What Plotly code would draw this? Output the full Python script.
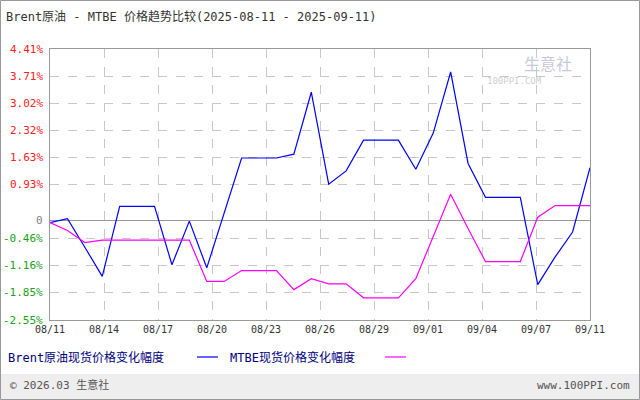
import plotly.graph_objects as go

dates = ["08/11","08/12","08/13","08/14","08/15","08/16","08/17","08/18","08/19","08/20","08/21",
         "08/22","08/23","08/24","08/25","08/26","08/27","08/28","08/29","08/30","08/31","09/01",
         "09/02","09/03","09/04","09/05","09/06","09/07","09/08","09/09","09/10","09/11"]
brent = [-0.05,0.05,-0.68,-1.43,0.37,0.37,0.37,-1.13,-0.01,-1.21,0.23,1.61,1.61,1.61,1.71,3.30,
         0.94,1.28,2.07,2.07,2.07,1.32,2.25,3.82,1.47,0.60,0.60,0.60,-1.64,-0.93,-0.29,1.36]
mtbe = [-0.05,-0.25,-0.56,-0.50,-0.50,-0.50,-0.50,-0.50,-0.50,-1.56,-1.56,-1.28,-1.28,-1.28,-1.77,
        -1.49,-1.62,-1.62,-1.98,-1.98,-1.98,-1.49,-0.42,0.68,-0.20,-1.05,-1.05,-1.05,0.09,0.39,0.39,0.39]
ytick_vals = [4.41,3.71,3.02,2.32,1.63,0.93,0,-0.46,-1.16,-1.85,-2.55]
ytick_text = ["4.41%","3.71%","3.02%","2.32%","1.63%","0.93%","0","-0.46%","-1.16%","-1.85%","-2.55%"]
xtick_labels = ["08/11","08/14","08/17","08/20","08/23","08/26","08/29","09/01","09/04","09/07","09/11"]

x = list(range(len(dates)))
n = len(dates) - 1
xtick_pos = [i * n / 10 for i in range(len(xtick_labels))]
font = "DejaVu Sans Mono, Noto Sans CJK SC"

fig = go.Figure()
fig.add_trace(go.Scatter(x=x, y=brent, mode="lines", line=dict(color="#0000ff", width=1.2), hoverinfo="skip"))
fig.add_trace(go.Scatter(x=x, y=mtbe, mode="lines", line=dict(color="#ff00ff", width=1.2), hoverinfo="skip"))

anns = []
for v, t in zip(ytick_vals, ytick_text):
    c = "#ff2020" if v > 0 else ("#20a020" if v < 0 else "#808080")
    anns.append(dict(x=0, xref="paper", y=v, yref="y", text=t, showarrow=False, xanchor="right",
                     xshift=-5, font=dict(color=c, size=11, family=font)))
fig.update_layout(
    width=640, height=400, showlegend=False,
    margin=dict(l=50, r=50, t=49, b=80),
    paper_bgcolor="white", plot_bgcolor="white",
    font=dict(family=font, size=11, color="#333"),
    xaxis=dict(range=[0, n], tickvals=xtick_pos, ticktext=xtick_labels, showgrid=True,
               gridcolor="#c8c8c8", griddash="dash", zeroline=False, showline=True, linecolor="#999",
               mirror=True, ticks="", tickfont=dict(size=10, color="#333")),
    yaxis=dict(range=[-2.55, 4.41], tickvals=ytick_vals, showticklabels=False, showgrid=True,
               gridcolor="#c8c8c8", griddash="dash", zeroline=True, zerolinecolor="#999",
               zerolinewidth=1, showline=True, linecolor="#999", mirror=True),
    annotations=anns,
)
def px(xp, yp):
    return (xp - 50) / 540, (320 - yp) / 271
def add_text(xp, yp, text, color="#333", anchor="left", size=11):
    ax, ay = px(xp, yp)
    fig.add_annotation(x=ax, y=ay, xref="paper", yref="paper", text=text, showarrow=False,
                       xanchor=anchor, yanchor="middle", font=dict(color=color, size=size, family=font))
add_text(4, 16, "Brent原油 - MTBE 价格趋势比较(2025-08-11 - 2025-09-11)", "#333", size=12)
add_text(6, 357, "Brent原油现货价格变化幅度", "#000080", size=12)
add_text(228, 357, "MTBE现货价格变化幅度", "#000080", size=12)
add_text(522, 64, "生意社", "#c8c8dc", size=16)
add_text(485, 81, "100PPI.COM", "#d0d0d0", size=9)
add_text(8, 385, "© 2026.03 生意社", "#555")
add_text(632, 385, "www.100PPI.com", "#555", anchor="right")
for (a, b, col) in [(197, 218, "#0000ff"), (385, 406, "#ff00ff")]:
    x0, y0 = px(a, 357); x1, _ = px(b, 357)
    fig.add_shape(type="line", xref="paper", yref="paper", x0=x0, x1=x1, y0=y0, y1=y0,
                  line=dict(color=col, width=1.2))
x0, y0 = px(0, 400); x1, y1 = px(640, 374)
fig.add_shape(type="rect", xref="paper", yref="paper", x0=x0, x1=x1, y0=y0, y1=y1,
              fillcolor="#eeeeee", line=dict(width=0), layer="below")
x0, y0 = px(0.5, 399.5); x1, y1 = px(639.5, 0.5)
fig.add_shape(type="rect", xref="paper", yref="paper", x0=x0, x1=x1, y0=y0, y1=y1,
              line=dict(color="#999", width=1))
fig.write_html("out.html", config={"displayModeBar": False},
               post_script="document.body.style.margin='0';document.body.style.overflow='hidden';")
